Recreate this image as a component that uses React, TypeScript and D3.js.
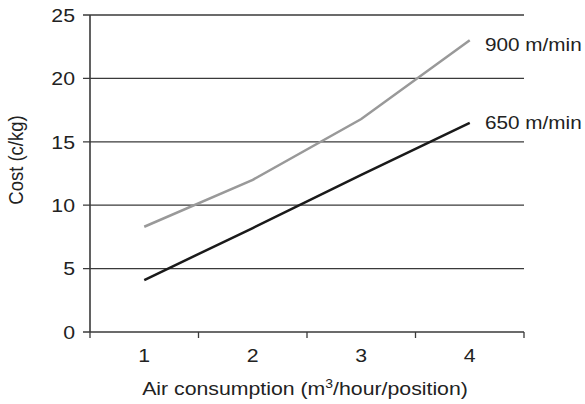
import React from "react";
import * as d3 from "d3";

const categories = ["1", "2", "3", "4"];
const series900 = [8.3, 12.0, 16.8, 23.0];
const series650 = [4.1, 8.2, 12.4, 16.5];
const yTicks = [0, 5, 10, 15, 20, 25];
const seriesLabels = ["900 m/min", "650 m/min"];

const W = 585;
const H = 404;
const left = 90;
const right = 524;
const top = 15;
const bottom = 332;
const FONT = "'Liberation Sans', Arial, Helvetica, sans-serif";
const SX = 1.12;

export default function App() {
  const x = d3.scaleBand<string>().domain(categories).range([left, right]).padding(0);
  const y = d3.scaleLinear().domain([0, 25]).range([bottom, top]);
  const cx = (c: string) => (x(c) as number) + x.bandwidth() / 2;
  const line = d3
    .line<number>()
    .x((_, i) => cx(categories[i]))
    .y((d) => y(d));
  const boundaries = [...categories.map((c) => x(c) as number), right];

  return (
    <svg width={W} height={H} style={{ position: "absolute", left: 0, top: 0 }} fontFamily={FONT}>
      <rect x={0} y={0} width={W} height={H} fill="#fff" />
      {yTicks.map((t) => (
        <g key={t}>
          <line x1={left - 7} x2={right} y1={y(t)} y2={y(t)} stroke="#3a3a3a" strokeWidth={t === 0 ? 1.6 : 1.3} />
          <text
            transform={`translate(75,${y(t) + 6.8}) scale(${SX},1)`}
            textAnchor="end"
            fontSize={19}
            fill="#222"
          >
            {t}
          </text>
        </g>
      ))}
      <line x1={left} x2={left} y1={top} y2={bottom} stroke="#3a3a3a" strokeWidth={1.6} />
      {boundaries.map((b, i) => (
        <line key={i} x1={b} x2={b} y1={bottom} y2={bottom + 6} stroke="#3a3a3a" strokeWidth={1.3} />
      ))}
      {categories.map((c) => (
        <text
          key={c}
          transform={`translate(${cx(c)},${y(0) + 29.5}) scale(${SX},1)`}
          textAnchor="middle"
          fontSize={19}
          fill="#222"
        >
          {c}
        </text>
      ))}
      <path d={line(series900) || ""} fill="none" stroke="#999" strokeWidth={2.5} />
      <path d={line(series650) || ""} fill="none" stroke="#1a1a1a" strokeWidth={2.5} />
      <text transform={`translate(485,${y(series900[3]) + 11}) scale(${SX},1)`} fontSize={18.5} fill="#222">
        {seriesLabels[0]}
      </text>
      <text transform={`translate(485,${y(series650[3]) + 6}) scale(${SX},1)`} fontSize={18.5} fill="#222">
        {seriesLabels[1]}
      </text>
      <text
        transform={`translate(305,395) scale(${SX},1)`}
        textAnchor="middle"
        fontSize={19}
        fill="#222"
      >
        Air consumption (m
        <tspan fontSize={12.5} dy={-7}>3</tspan>
        <tspan dy={7}>/hour/position)</tspan>
      </text>
      <text
        transform={`translate(23,160) scale(${SX},1) rotate(-90)`}
        textAnchor="middle"
        fontSize={18.5}
        fill="#222"
      >
        Cost (c/kg)
      </text>
    </svg>
  );
}
